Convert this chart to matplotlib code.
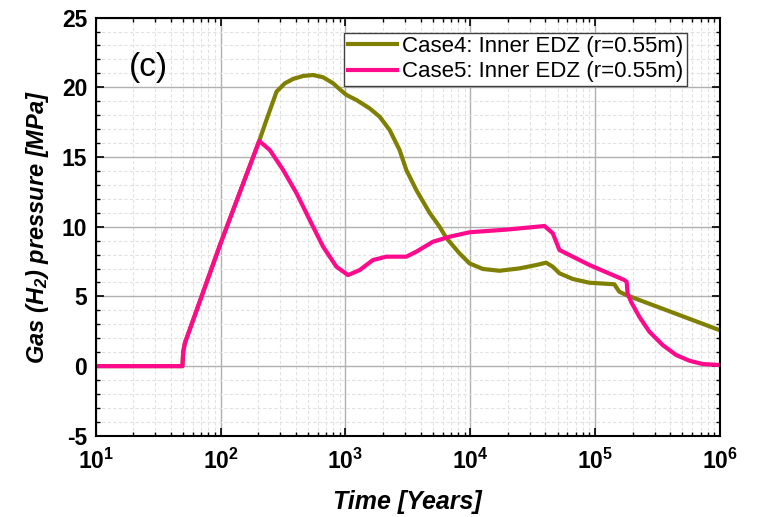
import matplotlib
matplotlib.use('Agg')
import matplotlib.pyplot as plt
from matplotlib.ticker import LogLocator, MultipleLocator, NullFormatter

plt.rcParams['font.family'] = ['Liberation Sans', 'DejaVu Sans']
plt.rcParams['axes.unicode_minus'] = False
plt.rcParams['mathtext.fontset'] = 'custom'
plt.rcParams['mathtext.rm'] = 'Liberation Sans:bold:italic'
plt.rcParams['mathtext.it'] = 'Liberation Sans:bold:italic'
plt.rcParams['mathtext.bf'] = 'Liberation Sans:bold'

# time in years, gas pressure in MPa
case4_t = [10, 49.5, 50.2, 51.8, 100, 204, 233, 281, 327, 381, 458, 551, 662, 796, 900,
           1019, 1225, 1563, 1880, 2260, 2716, 3076, 3698, 4721, 5675, 6427, 8200,
           9863, 12600, 17140, 24800, 33700, 40500, 45800, 51800, 66200, 90200,
           142600, 156000, 177000, 1000000]
case4_p = [0, 0, 1.0, 1.65, 8.8, 16.15, 17.65, 19.69, 20.28, 20.6, 20.81, 20.88, 20.72,
           20.29, 19.86, 19.45, 19.09, 18.49, 17.89, 16.94, 15.5, 14.07, 12.63, 11.0, 10.0,
           9.2, 8.09, 7.37, 6.97, 6.84, 7.01, 7.25, 7.42, 7.13, 6.66, 6.25, 5.98,
           5.87, 5.34, 5.10, 2.57]

case5_t = [10, 49.5, 50.2, 51.8, 100, 204, 248, 317, 406, 518, 662, 847, 1050, 1300,
           1663, 2128, 3076, 3698, 5023, 6823, 9863, 20000, 39300, 45800, 51800, 66200,
           90200, 171000, 179000, 182000, 194000, 226000, 272000, 348000, 445000,
           568000, 726000, 1000000]
case5_p = [0, 0, 1.0, 1.65, 8.8, 16.15, 15.5, 14.07, 12.4, 10.48, 8.57, 7.13, 6.53, 6.89,
           7.61, 7.85, 7.85, 8.21, 8.92, 9.28, 9.6, 9.8, 10.05, 9.53, 8.33, 7.85,
           7.25, 6.18, 6.05, 5.22, 4.62, 3.54, 2.47, 1.51, 0.80,
           0.39, 0.15, 0.08]

labels = ['Case4: Inner EDZ (r=0.55m)', 'Case5: Inner EDZ (r=0.55m)']
colors = ['#808000', '#FF0A8C']

fig = plt.figure(figsize=(7.65, 5.17), dpi=100)
ax = fig.add_axes([0.1251, 0.157, 0.816, 0.809])

ax.plot(case4_t, case4_p, color=colors[0], lw=3, label=labels[0])
ax.plot(case5_t, case5_p, color=colors[1], lw=3, label=labels[1])

ax.set_xscale('log')
ax.set_xlim(10, 1e6)
ax.set_ylim(-5, 25)
ax.yaxis.set_major_locator(MultipleLocator(5))
ax.yaxis.set_minor_locator(MultipleLocator(1))
ax.xaxis.set_major_locator(LogLocator(base=10, numticks=10))
ax.xaxis.set_minor_locator(LogLocator(base=10, subs=range(2, 10), numticks=20))
ax.xaxis.set_minor_formatter(NullFormatter())

ax.grid(which='major', color='#b0b0b0', lw=1)
ax.grid(which='minor', color='#e2e2e2', lw=0.8, ls=(0, (3, 2)))
ax.set_axisbelow(True)

ax.tick_params(which='both', direction='in', top=True, right=True)
ax.tick_params(which='major', length=6, width=1.2, labelsize=16.5)
ax.tick_params(axis='y', which='major', pad=6)
ax.tick_params(axis='x', which='major', pad=9)
ax.tick_params(which='minor', length=3, width=1)
for lab in ax.get_xticklabels() + ax.get_yticklabels():
    lab.set_fontweight('bold')
for s in ax.spines.values():
    s.set_linewidth(1.5)

ax.set_xlabel('Time [Years]', fontsize=18, fontweight='bold', fontstyle='italic', labelpad=12)
ax.set_ylabel('Gas (H$_2$) pressure [MPa]', fontsize=17, fontweight='bold',
              fontstyle='italic', labelpad=8)

ax.text(0.053, 0.86, '(c)', transform=ax.transAxes, fontsize=24)

leg = ax.legend(loc='upper right', bbox_to_anchor=(0.947, 0.964), fontsize=16,
                fancybox=False, framealpha=1, edgecolor='#404040',
                handlelength=2.2, handletextpad=0.25, borderpad=0.15, labelspacing=0.2,
                borderaxespad=0)
leg.get_frame().set_linewidth(1)

fig.savefig('out.png', dpi=100)
